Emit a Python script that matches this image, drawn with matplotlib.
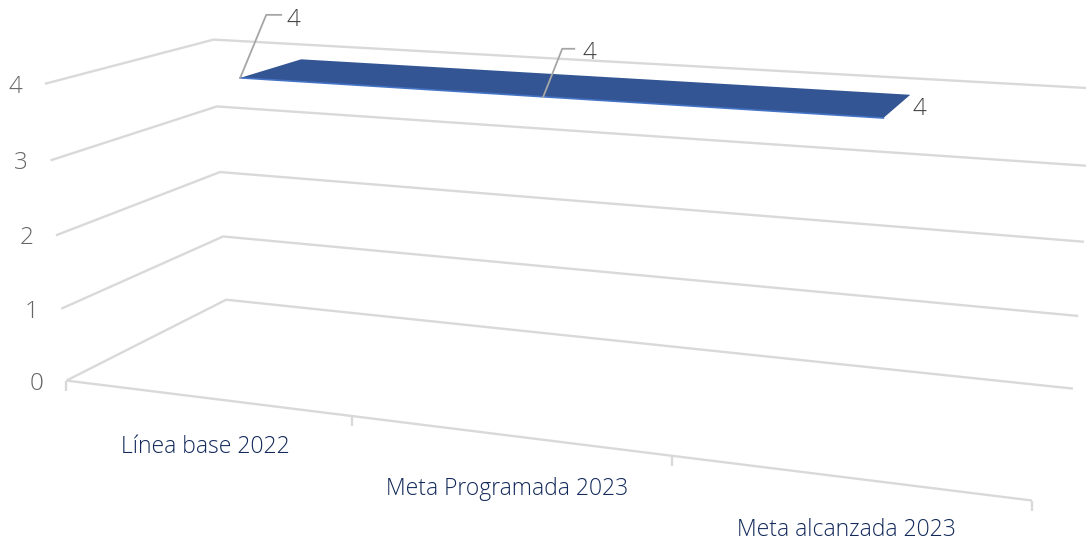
import numpy as np
import matplotlib
matplotlib.use("Agg")
import matplotlib.pyplot as plt

categories = ["Línea base 2022", "Meta Programada 2023", "Meta alcanzada 2023"]
values = [4, 4, 4]
y_ticks = [0, 1, 2, 3, 4]

# depth of the ribbon inside the floor (0 = front, 1 = back)
RIBBON_FRONT = 0.30
RIBBON_BACK = 0.70

# pixel positions of the chart frame, used to fit the 3D view
frame_pts = [
    (0, 0, 0, 67, 380), (0, 1, 0, 61, 309), (0, 2, 0, 56, 236), (0, 3, 0, 50, 160), (0, 4, 0, 45, 84),
    (0, 0, 1, 226, 300), (0, 1, 1, 223, 236), (0, 2, 1, 220, 172), (0, 3, 1, 217, 106), (0, 4, 1, 214, 40),
    (3, 0, 1, 1073, 389), (3, 1, 1, 1078, 316), (3, 2, 1, 1084, 242), (3, 3, 1, 1090, 166), (3, 4, 1, 1095, 88),
    (1, 0, 0, 352, 416), (2, 0, 0, 672, 456), (3, 0, 0, 1032, 500),
]


def fit_view(pts):
    rows = []
    for x, y, z, u, v in pts:
        rows.append([x, y, z, 1, 0, 0, 0, 0, -u * x, -u * y, -u * z, -u])
        rows.append([0, 0, 0, 0, x, y, z, 1, -v * x, -v * y, -v * z, -v])
    return np.linalg.svd(np.array(rows, dtype=float))[2][-1].reshape(3, 4)


VIEW = fit_view(frame_pts)


def project(x, y, z):
    p = VIEW @ np.array([x, y, z, 1.0])
    return p[0] / p[2], p[1] / p[2]


def plot_line3d():
    fig = plt.figure(figsize=(10.86, 5.41), dpi=100)
    ax = fig.add_axes([0, 0, 1, 1])
    ax.set_xlim(0, 1086)
    ax.set_ylim(541, 0)
    ax.axis("off")

    grid = dict(color="#D9D9D9", lw=1.7, solid_capstyle="butt", solid_joinstyle="miter", zorder=1)
    n = len(categories)

    # side wall and back wall gridlines
    for v in y_ticks:
        pts = [project(0, v, 0), project(0, v, 1), project(n, v, 1)]
        ax.plot(*zip(*pts), **grid)
        fx, fy = project(0, v, 0)
        ax.text(fx - 29.5, fy + 3, str(v), color="#666666", fontsize=17.5, family="Open Sans",
                fontweight="light", ha="center", va="center")

    # floor front edge and ticks
    ax.plot(*zip(project(0, 0, 0), project(n, 0, 0)), **grid)
    for i in range(n + 1):
        tx, ty = project(i, 0, 0)
        ax.plot([tx, tx], [ty, ty + 10], **grid)

    label_drop = [49, 54, 53]
    for i, name in enumerate(categories):
        tx, ty = project(i + 0.5, 0, 0)
        ax.text(tx, ty + label_drop[i], name, color="#12295A", fontsize=16.5, family="Open Sans",
                fontweight="light", ha="center", va="center")

    # ribbon
    xs = np.arange(n) + 0.5
    front = [project(x, v, RIBBON_FRONT) for x, v in zip(xs, values)]
    back = [project(x, v, RIBBON_BACK) for x, v in zip(xs, values)]
    ax.fill(*zip(*(front + back[::-1])), color="#335593", lw=0, zorder=3)
    ax.plot(*zip(*front), color="#4472C4", lw=1.2, zorder=4)

    # data labels, the first two with leader lines
    leaders = [(26, -63, 15), (19, -48, 12), None]
    label_off = [(53, -58), (46, -44), (36, -9)]
    for p, lead, off, v in zip(front, leaders, label_off, values):
        if lead:
            dx, dy, run = lead
            ax.plot([p[0], p[0] + dx, p[0] + dx + run], [p[1], p[1] + dy, p[1] + dy],
                    color="#A6A6A6", lw=1.3, zorder=5)
        ax.text(p[0] + off[0], p[1] + off[1], str(v), color="#404040", fontsize=17.5,
                family="Open Sans", fontweight="light", ha="center", va="center", zorder=5)

    fig.savefig("out.png", dpi=100)
    plt.close(fig)


plot_line3d()
